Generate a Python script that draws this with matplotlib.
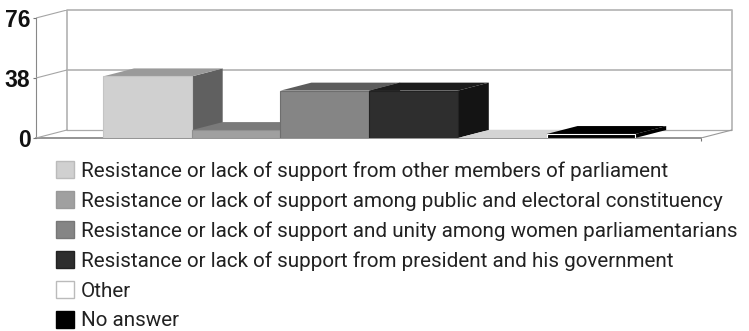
import matplotlib
matplotlib.use('Agg')
import matplotlib.pyplot as plt
from matplotlib.patches import Patch

labels = ['Resistance or lack of support from other members of parliament',
          'Resistance or lack of support among public and electoral constituency',
          'Resistance or lack of support and unity among women parliamentarians',
          'Resistance or lack of support from president and his government',
          'Other',
          'No answer']
values = [39, 5, 30, 30, 0, 2.5]
front_cols = ['#d0d0d0', '#a0a0a0', '#858585', '#2e2e2e', '#ffffff', '#000000']
top_cols = ['#9a9a9a', '#7a7a7a', '#5c5c5c', '#1c1c1c', '#d4d4d4', '#000000']
side_cols = ['#606060', '#555555', '#3c3c3c', '#141414', '#bbbbbb', '#000000']
edge_cols = ['#c4c4c4', '#909090', '#6e6e6e', '#222222', '#d0d0d0', '#ffffff']
yticks = [0, 38, 76]

W, H = 749, 331
fig = plt.figure(figsize=(W / 100, H / 100), dpi=100)
ax = fig.add_axes([36 / W, 1 - 138 / H, 696 / W, 128 / H])
ax.set_xlim(0, 696 / 88.7)
ax.set_ylim(0, 128 / 120 * 76)

# depth of the fake 3d box, in data units
dx = 31 / 88.7
dy = 8 / 120 * 76
floor_w = 665 / 88.7
x0 = 67 / 88.7
grid = '#b8b8b8'

# back wall and floor
ax.plot([dx, dx, dx + floor_w, dx + floor_w], [dy, 76 + dy, 76 + dy, dy], color=grid, lw=1.3, zorder=1, clip_on=False)
ax.plot([dx, dx + floor_w], [38 + dy, 38 + dy], color=grid, lw=1.3, zorder=1)
ax.plot([dx, dx + floor_w], [dy, dy], color='#aaaaaa', lw=0.9, zorder=1)
ax.plot([0, floor_w], [0, 0], color='#777777', lw=1.1, zorder=1, clip_on=False)
ax.plot([floor_w, floor_w + dx], [0, dy], color='#999999', lw=0.8, zorder=1)
ax.plot([0, 0], [0, 76], color='#888888', lw=0.8, zorder=1, clip_on=False)
for t in yticks:
    ax.plot([0, dx], [t, t + dy], color='#a5a5a5', lw=0.8, zorder=1)

# bars, left to right so each one covers the side of the previous
for i, v in enumerate(values):
    x = x0 + i
    z = 2 + i
    ax.fill([x + 1, x + 1 + dx, x + 1 + dx, x + 1], [0, dy, v + dy, v], color=side_cols[i], lw=0, zorder=z)
    ax.fill([x, x + dx, x + 1 + dx, x + 1], [v, v + dy, v + dy, v], color=top_cols[i], lw=0, zorder=z)
    if v > 0:
        ax.bar(x + 0.5, v, width=1, color=front_cols[i], edgecolor=edge_cols[i], lw=0.8, zorder=z)

for s in ax.spines.values():
    s.set_visible(False)
ax.set_xticks([floor_w])
ax.set_xticklabels([''])
ax.tick_params(axis='x', length=2, width=0.8, color='#777777')
ax.set_yticks(yticks)
ax.set_yticklabels([str(t) for t in yticks], family='Liberation Sans', fontweight='bold', fontsize=16.5, color='#111111')
ax.tick_params(axis='y', length=2, width=0.8, color='#777777', pad=2)

handles = [Patch(facecolor=c, edgecolor=e) for c, e in zip(front_cols, ['#bbbbbb', '#999999', '#777777', '#222222', '#bbbbbb', '#000000'])]
fig.legend(handles, labels, loc='upper left', bbox_to_anchor=(52 / W, 1 - 157 / H), frameon=False,
           prop={'family': 'Roboto', 'size': 14.9}, labelcolor='#222222', handlelength=0.88, handleheight=0.88,
           handletextpad=0.3, labelspacing=0.5, borderpad=0.2, borderaxespad=0)

fig.savefig('out.png', dpi=100)
